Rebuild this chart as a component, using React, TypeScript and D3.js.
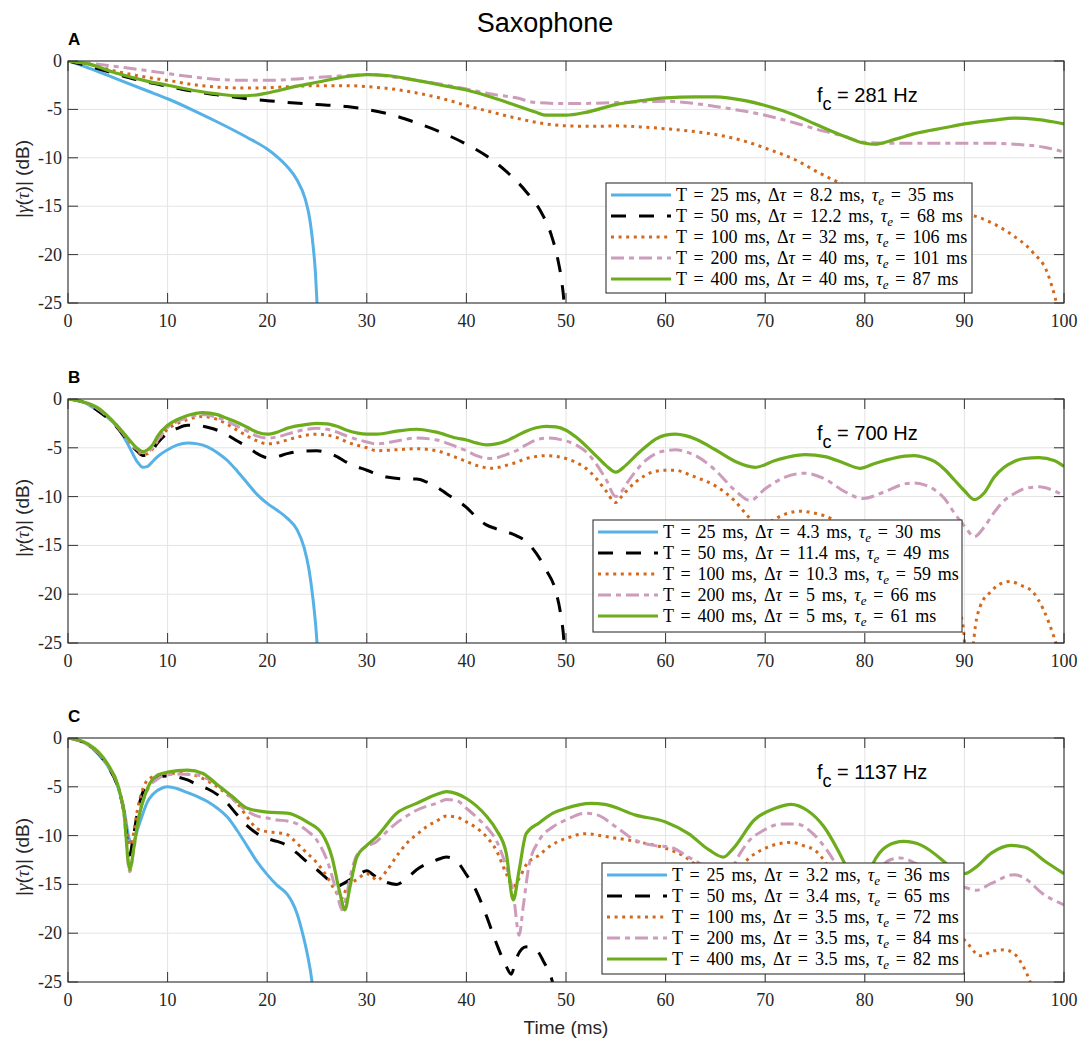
import React from 'react';
import * as d3 from 'd3';

type Pt = [number, number];

// ---------- shared axis values ----------
const periods = [25, 50, 100, 200, 400];
const xTicks = [0, 10, 20, 30, 40, 50, 60, 70, 80, 90, 100];
const yTicks = [0, -5, -10, -15, -20, -25];
const centreFreqs = ['281', '700', '1137'];
const panelLabels = ['A', 'B', 'C'];

// ---------- panel A (fc = 281 Hz) ----------
const a25: Pt[] = [[0,0],[2,-0.7],[5,-1.9],[8,-3.1],[10,-3.9],[13,-5.3],[15,-6.3],[18,-7.9],[20,-9.1],[21,-9.9],[22,-10.9],[23,-12.3],[23.8,-14.2],[24.3,-16.5],[24.6,-19],[24.85,-22],[25,-25],[25.1,-27]];
const a50: Pt[] = [[0,0],[2,-0.5],[5,-1.4],[8,-2.2],[10,-2.6],[13,-3.2],[15,-3.5],[18,-3.9],[20,-4.1],[25,-4.5],[28,-4.7],[30,-5.0],[33,-5.7],[35,-6.4],[38,-7.6],[40,-8.6],[42,-9.8],[44,-11.4],[46,-13.5],[47.5,-15.6],[48.5,-17.9],[49.2,-20.6],[49.6,-23],[49.8,-25],[49.9,-27]];
const a100: Pt[] = [[0,0],[2,-0.3],[5,-1.1],[8,-1.7],[10,-2.0],[13,-2.5],[15,-2.7],[18,-2.8],[20,-2.75],[25,-2.55],[28,-2.55],[30,-2.65],[33,-2.95],[35,-3.3],[38,-4.0],[40,-4.6],[43,-5.4],[45,-5.9],[48,-6.5],[50,-6.7],[53,-6.75],[55,-6.7],[58,-6.85],[60,-7.0],[63,-7.3],[65,-7.6],[68,-8.3],[70,-9.0],[73,-10.2],[75.5,-11.6],[77.5,-12.6],[80,-13.6],[83,-14.4],[86,-15.0],[88.5,-15.5],[91,-16.0],[94.4,-17.7],[96.9,-19.8],[98.3,-21.8],[99.1,-24.4],[99.5,-26]];
const a200: Pt[] = [[0,0],[2,-0.2],[5,-0.6],[8,-1.0],[10,-1.3],[13,-1.7],[15,-1.9],[18,-2.0],[20,-2.0],[23,-1.85],[25,-1.7],[28,-1.5],[30,-1.4],[33,-1.7],[35,-2.0],[38,-2.5],[40,-2.9],[43,-3.5],[45,-3.8],[47,-4.3],[50,-4.4],[55,-4.3],[58,-4.2],[60,-4.15],[63,-4.4],[65,-4.7],[68,-5.2],[70,-5.6],[73,-6.4],[75,-7.0],[78,-7.8],[80,-8.4],[83,-8.5],[85,-8.5],[90,-8.5],[93,-8.5],[95,-8.6],[98,-8.9],[100,-9.4]];
const a400: Pt[] = [[0,0],[2,-0.3],[5,-1.3],[8,-2.1],[10,-2.5],[13,-3.1],[15,-3.4],[17,-3.6],[19,-3.5],[20,-3.3],[23,-2.6],[25,-2.2],[28,-1.6],[30,-1.4],[32,-1.5],[35,-2.0],[38,-2.6],[40,-3.0],[43,-3.9],[45,-4.6],[47,-5.3],[48,-5.6],[50,-5.6],[52,-5.3],[55,-4.5],[57.5,-4.1],[60,-3.8],[63,-3.7],[65,-3.7],[68,-4.1],[70,-4.6],[73,-5.6],[75,-6.5],[78,-7.8],[80,-8.5],[81,-8.6],[83,-8.1],[85,-7.5],[88,-6.9],[90,-6.5],[93,-6.1],[95,-5.9],[97,-6.0],[99,-6.3],[100,-6.5]];
const dTauA = ['8.2', '12.2', '32', '40', '40'];
const tauEA = ['35', '68', '106', '101', '87'];

// ---------- panel B (fc = 700 Hz) ----------
const b25: Pt[] = [[0,0],[1.5,-0.3],[3,-1.2],[4,-1.9],[5,-2.9],[6,-4.6],[7,-6.5],[7.5,-7.0],[8,-6.9],[8.5,-6.4],[9,-5.9],[10,-5.2],[11,-4.7],[12,-4.5],[13,-4.6],[14,-4.9],[15,-5.5],[16,-6.3],[17,-7.4],[18,-8.6],[19,-9.8],[20,-10.7],[21,-11.4],[22,-12.2],[23,-13.4],[23.7,-15.2],[24.2,-17.5],[24.6,-20.5],[24.85,-23],[25,-25],[25.1,-27]];
const b50: Pt[] = [[0,0],[1.5,-0.3],[3,-1.2],[5,-3.0],[6,-4.3],[7,-5.4],[7.5,-5.8],[8,-5.7],[8.5,-5.2],[9,-4.5],[10,-3.5],[11,-3.0],[12,-2.7],[13,-2.7],[14,-2.9],[15,-3.2],[16,-3.7],[17,-4.3],[18,-4.9],[19,-5.6],[20,-6.0],[21,-5.9],[22,-5.6],[23,-5.4],[25,-5.3],[26,-5.5],[27,-5.9],[28,-6.5],[30,-7.3],[32,-8.0],[34,-8.2],[35,-8.2],[36,-8.5],[37,-9.0],[38,-9.7],[40,-11.1],[41,-12.1],[42,-12.9],[43,-13.3],[45,-14.0],[46,-14.6],[47,-15.8],[48,-17.5],[49,-19.8],[49.5,-22.3],[49.8,-25],[49.9,-27]];
const b100: Pt[] = [[0,0],[1.5,-0.3],[3,-1.0],[5,-2.9],[6,-4.2],[7,-5.3],[7.5,-5.7],[8,-5.6],[8.5,-5.1],[9,-4.3],[10,-3.1],[11,-2.5],[12,-2.1],[13.5,-1.8],[15,-2.1],[16,-2.6],[17,-3.2],[18,-3.8],[19,-4.3],[20,-4.6],[21,-4.5],[22,-4.2],[24,-3.7],[25,-3.6],[26,-3.7],[27,-3.95],[28,-4.4],[30,-5.0],[31,-5.3],[33,-5.2],[35,-5.1],[37,-5.3],[39,-6.0],[40,-6.4],[41,-6.8],[42.5,-7.1],[44,-6.8],[45,-6.5],[46,-6.1],[47,-5.9],[48,-5.8],[50,-6.1],[51,-6.5],[52,-7.1],[53,-8.1],[54,-9.4],[55,-10.6],[55.5,-10.1],[56,-9.5],[57,-8.5],[58,-7.8],[59,-7.4],[60,-7.3],[61,-7.3],[62,-7.6],[63,-8.0],[65,-8.9],[66,-9.6],[67,-10.5],[68,-11.7],[69,-12.8],[69.7,-13.2],[70.5,-12.6],[72,-11.8],[73.5,-11.5],[75,-11.7],[76.5,-12.2],[78,-13.3],[80,-14.8],[81,-15.3],[83,-15.0],[85,-15.2],[87,-16.8],[88.5,-19.5],[89.5,-21.8],[89.9,-23.5],[90.2,-27],[90.6,-27],[90.9,-25],[91.1,-23.3],[91.6,-21.2],[92.6,-19.8],[93.5,-19.0],[94.6,-18.7],[95.7,-19.1],[96.9,-19.8],[97.9,-21.5],[99,-24.4],[99.5,-26]];
const b200: Pt[] = [[0,0],[1.5,-0.3],[3,-1.0],[5,-2.9],[6,-4.1],[7,-5.2],[7.5,-5.5],[8,-5.4],[8.5,-5.0],[9,-4.2],[10,-2.9],[11,-2.3],[12,-1.9],[13.5,-1.6],[15,-1.9],[16,-2.3],[17,-2.8],[18,-3.3],[19,-3.8],[20,-4.0],[21,-3.9],[22,-3.6],[24,-3.1],[25,-3.0],[26,-3.1],[27,-3.4],[28,-3.8],[30,-4.4],[31,-4.6],[33,-4.3],[35,-4.0],[37,-4.2],[39,-4.9],[40,-5.3],[41,-5.8],[42.5,-6.1],[44,-5.7],[45,-5.3],[46,-4.7],[47,-4.2],[48,-4.0],[50,-4.3],[51,-4.7],[52,-5.4],[53,-6.6],[54,-8.2],[55,-10.0],[55.5,-9.6],[56,-8.8],[57,-7.4],[58,-6.3],[59,-5.6],[60,-5.3],[61,-5.2],[62,-5.4],[63,-5.8],[65,-7.3],[67,-9.4],[68.5,-10.4],[70,-9.2],[72,-8.0],[74,-7.6],[76,-8.2],[78,-9.5],[79.8,-10.2],[82,-9.5],[84,-8.7],[85,-8.6],[86,-8.8],[87,-9.3],[88,-10.2],[89,-11.7],[90,-13.0],[91,-14.1],[92,-13.1],[93,-11.6],[94,-10.4],[95,-9.7],[96,-9.2],[97.5,-9.0],[99,-9.4],[100,-9.9]];
const b400: Pt[] = [[0,0],[1.5,-0.3],[3,-0.9],[5,-2.8],[6,-4.0],[7,-5.1],[7.5,-5.4],[8,-5.2],[8.5,-4.7],[9,-3.8],[10,-2.7],[11,-2.1],[12,-1.7],[13.5,-1.4],[15,-1.6],[16,-2.0],[17,-2.4],[18,-2.9],[19,-3.4],[20,-3.6],[21,-3.4],[22,-3.0],[24,-2.6],[25,-2.5],[26,-2.55],[27,-2.8],[28,-3.2],[30,-3.6],[31,-3.6],[33,-3.3],[35,-3.1],[37,-3.4],[39,-4.0],[40,-4.2],[41,-4.5],[42,-4.7],[43,-4.6],[44,-4.3],[45,-3.8],[46,-3.3],[47,-2.95],[48,-2.8],[49,-2.85],[50,-3.2],[51,-3.9],[52,-4.8],[53,-5.8],[54,-6.8],[55,-7.5],[56,-6.8],[57,-5.8],[58,-4.9],[59,-4.1],[60,-3.7],[61,-3.6],[62,-3.75],[63,-4.1],[65,-5.2],[67,-6.4],[69,-7.0],[71,-6.3],[72.5,-5.9],[74,-5.7],[76,-5.9],[78,-6.6],[79.5,-7.1],[81,-6.6],[82,-6.3],[84,-5.85],[85,-5.8],[86,-6.0],[87,-6.4],[88,-7.2],[89,-8.3],[90,-9.4],[91,-10.3],[92,-9.6],[93,-8.0],[94,-7.0],[95,-6.4],[96,-6.1],[97.5,-6.0],[99,-6.3],[100,-6.9]];
const dTauB = ['4.3', '11.4', '10.3', '5', '5'];
const tauEB = ['30', '49', '59', '66', '61'];

// ---------- panel C (fc = 1137 Hz) ----------
const c25: Pt[] = [[0,0],[1,-0.2],[2,-0.7],[3,-1.6],[4,-2.9],[5,-5.0],[5.6,-7.2],[6.2,-10.5],[6.5,-10.8],[7,-9.3],[7.5,-7.8],[8,-6.5],[8.5,-5.8],[9.5,-5.1],[10,-5.0],[11,-5.2],[12,-5.6],[13,-6.0],[14,-6.5],[15,-7.2],[16,-8.1],[17,-9.5],[18,-11.1],[19,-12.7],[20,-14.0],[21,-15.1],[22,-16.0],[22.5,-16.8],[23,-18.0],[23.5,-19.8],[24,-22.0],[24.5,-25],[24.7,-27]];
const c50: Pt[] = [[0,0],[2,-0.7],[4,-2.9],[5,-5.0],[5.6,-7.5],[6.2,-12.0],[6.5,-10.5],[7,-7.5],[8,-4.6],[9,-4.0],[10,-3.9],[11,-4.0],[12,-4.3],[13,-4.8],[14,-5.2],[15,-5.8],[16,-6.7],[17,-7.9],[18,-9.0],[19,-9.8],[20,-10.3],[21,-10.6],[22,-11.0],[23,-11.8],[24,-12.7],[25,-13.5],[26,-14.4],[27,-15.2],[27.5,-15.0],[28.5,-14.4],[29.3,-13.9],[30,-13.6],[30.5,-13.9],[31,-14.3],[32,-14.8],[33,-15.0],[34,-14.4],[35,-13.5],[36,-12.9],[37,-12.5],[38,-12.2],[39,-12.6],[40,-14.0],[41,-15.7],[42,-18.2],[43,-21.0],[44,-23.4],[44.5,-24.2],[45,-22.6],[46,-21.4],[47,-21.7],[47.8,-23.0],[48.5,-24.5],[48.9,-26]];
const c100: Pt[] = [[0,0],[2,-0.7],[4,-2.8],[5,-4.9],[5.6,-7.2],[6.2,-11.0],[6.5,-10.2],[7,-7.2],[8,-4.3],[9,-3.8],[10,-3.6],[11,-3.6],[12,-3.7],[13,-3.9],[14,-4.4],[15,-5.0],[16,-5.8],[17,-6.7],[18,-8.1],[19,-9.3],[20,-9.6],[21,-9.7],[22,-9.9],[23,-10.8],[24,-11.8],[25,-12.8],[26,-14.2],[27,-15.9],[27.5,-16.4],[28,-15.3],[29,-14.5],[30,-13.9],[30.5,-14.1],[31,-14.6],[32,-13.6],[33,-12.1],[34,-10.8],[35,-9.9],[36,-9.1],[37,-8.5],[38,-8.0],[39,-8.1],[40,-8.6],[41,-9.2],[42,-10.1],[43,-11.5],[44,-13.9],[44.7,-15.2],[45.3,-14.4],[46,-13.0],[47.3,-12.0],[48.5,-11.0],[50,-10.3],[52,-9.8],[54,-10.1],[57,-10.6],[60,-11.3],[62,-12.2],[63,-13.0],[64.5,-14.3],[66,-14.6],[67.5,-13.2],[68.5,-12.2],[70,-11.3],[71.5,-10.8],[72.6,-10.7],[74,-11.1],[75,-11.5],[76,-12.7],[77,-14.5],[78,-16.5],[79,-17.5],[80.5,-16.5],[82,-15.5],[84,-15.5],[86,-17.0],[88,-19.5],[90,-20.7],[91.6,-22.3],[93,-21.8],[94,-21.7],[95,-22.1],[96.1,-23.8],[96.6,-25],[97,-26.5]];
const c200: Pt[] = [[0,0],[2,-0.7],[4,-2.8],[5,-4.9],[5.6,-7.6],[6.2,-13.7],[6.6,-11.5],[7,-8.7],[8,-5.3],[9,-4.2],[9.5,-3.9],[11,-3.7],[13,-3.8],[14,-4.2],[15,-4.8],[16,-5.7],[17,-6.7],[18,-7.5],[19,-8.0],[20,-8.2],[21,-8.4],[22,-8.5],[23,-8.8],[24,-9.5],[25,-10.5],[26,-12.5],[27,-15.9],[27.5,-17.6],[28,-15.9],[28.5,-13.5],[29,-12.0],[30,-11.1],[31,-10.6],[32,-9.6],[33,-8.7],[34,-8.0],[35,-7.4],[36,-7.0],[37,-6.7],[38,-6.3],[39,-6.4],[40,-7.2],[41,-8.1],[42,-9.1],[43,-10.5],[44,-13.2],[44.7,-15.9],[45.3,-20.2],[45.7,-17.3],[46.3,-13.0],[47.3,-10.5],[48.7,-9.1],[50,-8.4],[52,-7.7],[53.2,-7.9],[55,-9.1],[57,-10.5],[58.8,-11.0],[60.5,-11.2],[62.3,-12.2],[64,-13.2],[65.5,-14.2],[66.5,-13.6],[67.5,-11.8],[68.5,-10.4],[69.6,-9.6],[71.7,-8.8],[73.1,-8.8],[74.9,-9.9],[76.2,-11.5],[77.1,-12.9],[78.2,-14.5],[79.5,-15.3],[81,-14.0],[82.5,-12.5],[83.6,-12.3],[85,-12.8],[86.5,-13.8],[88,-14.8],[90,-15.3],[91.2,-15.6],[92.7,-14.9],[95,-14.0],[96.1,-14.4],[97.8,-15.9],[100,-17.1]];
const c400: Pt[] = [[0,0],[2,-0.6],[4,-2.7],[5,-4.8],[5.6,-7.5],[6.2,-13.5],[6.6,-11.3],[7,-8.7],[8,-5.1],[9,-3.8],[10,-3.5],[12,-3.3],[13.5,-3.6],[15,-4.8],[16.5,-6.0],[18,-7.2],[20,-7.6],[22,-7.7],[24,-8.6],[25.5,-9.8],[26.5,-12.2],[27.3,-15.9],[27.8,-17.6],[28.3,-15.3],[29,-12.2],[30,-11.0],[31,-10.1],[33,-7.7],[35,-6.7],[37,-5.8],[38,-5.5],[39,-5.7],[40,-6.2],[42,-8.0],[43,-9.4],[44,-11.8],[44.7,-16.6],[45.3,-13.5],[46,-9.8],[47.3,-8.7],[48.7,-7.7],[50,-7.2],[52.5,-6.7],[53.9,-6.8],[57,-7.9],[60,-8.6],[62.3,-9.8],[64.4,-11.5],[65.8,-12.2],[66.8,-11.3],[68.9,-8.4],[71,-7.2],[72.6,-6.8],[74.2,-7.4],[75.9,-9.1],[77.3,-11.5],[78,-12.9],[79,-15.0],[79.8,-15.5],[80.8,-12.9],[82.2,-11.1],[83.9,-10.6],[85.7,-11.0],[88,-12.7],[89,-13.6],[90,-13.9],[91.2,-13.2],[92.7,-11.8],[94.7,-11.0],[96.1,-11.2],[98.2,-12.7],[100,-13.9]];
const dTauC = ['3.2', '3.4', '3.5', '3.5', '3.5'];
const tauEC = ['36', '65', '72', '84', '82'];

// ---------- styling ----------
const seriesStyle = [
  { color: '#56b2e6', width: 3, dash: undefined as string | undefined },
  { color: '#000000', width: 3, dash: '15 13' },
  { color: '#d3691c', width: 3, dash: '3 4.6' },
  { color: '#cd9cbb', width: 3, dash: '13 5 5 5' },
  { color: '#6dac1c', width: 3.2, dash: undefined as string | undefined },
];

const W = 1084;
const H = 1041;
const PL = 68;
const PR = 1064;
const SERIF = "'Liberation Serif', 'DejaVu Serif', serif";
const SANS = "'Liberation Sans', Arial, sans-serif";
const AXIS = '#333333';

const layouts = [
  { top: 61, bottom: 303, legend: { x: 606, y: 183, w: 366, h: 110 } },
  { top: 399, bottom: 643, legend: { x: 593, y: 520, w: 369, h: 112 } },
  { top: 738, bottom: 982, legend: { x: 602, y: 863, w: 362, h: 111 } },
];

const panelSeries = [
  [a25, a50, a100, a200, a400],
  [b25, b50, b100, b200, b400],
  [c25, c50, c100, c200, c400],
];
const panelDTau = [dTauA, dTauB, dTauC];
const panelTauE = [tauEA, tauEB, tauEC];

function Panel({ idx }: { idx: number }) {
  const lay = layouts[idx];
  const x = d3.scaleLinear().domain([0, 100]).range([PL, PR]);
  const y = d3.scaleLinear().domain([-25, 0]).range([lay.bottom, lay.top]);
  const line = d3
    .line<Pt>()
    .x((d) => x(d[0]))
    .y((d) => y(d[1]))
    .curve(d3.curveMonotoneX);
  const clipId = `clip-${idx}`;
  const tickLen = 10;
  const lg = lay.legend;
  const rowH = 21;

  return (
    <g>
      <defs>
        <clipPath id={clipId}>
          <rect x={PL} y={lay.top} width={PR - PL} height={lay.bottom - lay.top} />
        </clipPath>
      </defs>
      {/* grid */}
      {xTicks.map((t) => (
        <line key={`gx${t}`} x1={x(t)} x2={x(t)} y1={lay.top} y2={lay.bottom} stroke="#e4e4e4" strokeWidth={1} />
      ))}
      {yTicks.map((t) => (
        <line key={`gy${t}`} x1={PL} x2={PR} y1={y(t)} y2={y(t)} stroke="#e4e4e4" strokeWidth={1} />
      ))}
      {/* curves */}
      <g clipPath={`url(#${clipId})`}>
        {panelSeries[idx].map((data, i) => (
          <path
            key={i}
            d={line(data) || ''}
            fill="none"
            stroke={seriesStyle[i].color}
            strokeWidth={seriesStyle[i].width}
            strokeDasharray={seriesStyle[i].dash}
            strokeLinejoin="round"
          />
        ))}
      </g>
      {/* box and inward ticks */}
      <rect x={PL} y={lay.top} width={PR - PL} height={lay.bottom - lay.top} fill="none" stroke={AXIS} strokeWidth={1.1} />
      {xTicks.map((t) => (
        <g key={`tx${t}`}>
          <line x1={x(t)} x2={x(t)} y1={lay.bottom} y2={lay.bottom - tickLen} stroke={AXIS} strokeWidth={1} />
          <line x1={x(t)} x2={x(t)} y1={lay.top} y2={lay.top + tickLen} stroke={AXIS} strokeWidth={1} />
          <text x={x(t)} y={lay.bottom + 24} textAnchor="middle" fontFamily={SERIF} fontSize={18} fill="#262626">
            {t}
          </text>
        </g>
      ))}
      {yTicks.map((t) => (
        <g key={`ty${t}`}>
          <line x1={PL} x2={PL + tickLen} y1={y(t)} y2={y(t)} stroke={AXIS} strokeWidth={1} />
          <line x1={PR} x2={PR - tickLen} y1={y(t)} y2={y(t)} stroke={AXIS} strokeWidth={1} />
          <text x={PL - 6} y={y(t) + 6} textAnchor="end" fontFamily={SERIF} fontSize={18} fill="#262626">
            {t === 0 ? '0' : `-${Math.abs(t)}`}
          </text>
        </g>
      ))}
      {/* y-axis label */}
      <text
        transform={`translate(29,${(lay.top + lay.bottom) / 2 - 3}) rotate(-90)`}
        textAnchor="middle"
        fontFamily={SANS}
        fontSize={19}
        fill="#262626"
      >
        |<tspan fontFamily={SERIF} fontStyle="italic">γ</tspan>(<tspan fontFamily={SERIF} fontStyle="italic">τ</tspan>)| (dB)
      </text>
      {/* panel letter */}
      <text x={PL} y={lay.top - 16} fontFamily={SANS} fontWeight="bold" fontSize={17} fill="#000">
        {panelLabels[idx]}
      </text>
      {/* centre frequency */}
      <text x={817} y={lay.top + 41} fontFamily={SANS} fontSize={20} fill="#000">
        f
        <tspan dy={8} fontSize={18}>c</tspan>
        <tspan dy={-8}>{` = ${centreFreqs[idx]} Hz`}</tspan>
      </text>
      {/* legend */}
      <rect x={lg.x} y={lg.y} width={lg.w} height={lg.h} fill="#fff" stroke={AXIS} strokeWidth={1.1} />
      {periods.map((T, i) => {
        const cy = lg.y + 12 + i * rowH;
        return (
          <g key={`lg${i}`}>
            <line
              x1={lg.x + 5}
              x2={lg.x + 65}
              y1={cy}
              y2={cy}
              stroke={seriesStyle[i].color}
              strokeWidth={seriesStyle[i].width}
              strokeDasharray={seriesStyle[i].dash}
            />
            <text x={lg.x + 70} y={cy + 6} fontFamily={SERIF} fontSize={18} wordSpacing={2.4} fill="#000">
              <tspan>{`T = ${T} ms, Δ`}</tspan>
              <tspan fontStyle="italic">τ</tspan>
              <tspan>{` = ${panelDTau[idx][i]} ms, `}</tspan>
              <tspan fontStyle="italic">τ</tspan>
              <tspan fontStyle="italic" fontSize={13} dy={4}>e</tspan>
              <tspan dy={-4}>{` = ${panelTauE[idx][i]} ms`}</tspan>
            </text>
          </g>
        );
      })}
    </g>
  );
}

export default function App() {
  return (
    <svg
      width={W}
      height={H}
      viewBox={`0 0 ${W} ${H}`}
      style={{ position: 'fixed', left: 0, top: 0, background: '#fff' }}
    >
      <rect x={0} y={0} width={W} height={H} fill="#fff" />
      <text x={545} y={32} textAnchor="middle" fontFamily={SANS} fontSize={27} fill="#000">
        Saxophone
      </text>
      {[0, 1, 2].map((i) => (
        <Panel key={i} idx={i} />
      ))}
      <text x={566} y={1034} textAnchor="middle" fontFamily={SANS} fontSize={19} fill="#262626">
        Time (ms)
      </text>
    </svg>
  );
}
